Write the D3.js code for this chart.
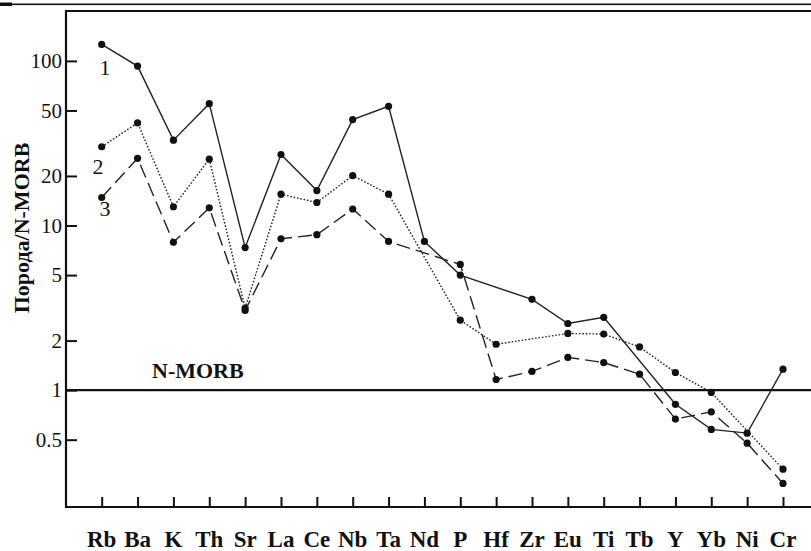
<!DOCTYPE html>
<html><head><meta charset="utf-8">
<script src="https://cdn.jsdelivr.net/npm/d3@7"></script>
<style>html,body{margin:0;padding:0;background:#fff;}svg{display:block;}</style>
</head><body>
<svg id="c" width="811" height="551"></svg>
<script>
const elements = ["Rb","Ba","K","Th","Sr","La","Ce","Nb","Ta","Nd","P","Hf","Zr","Eu","Ti","Tb","Y","Yb","Ni","Cr"];
const series1 = [126,93,33,55,7.35,27,16.3,44,53,8.0,5.0,null,3.56,2.54,2.77,null,0.82,0.577,0.548,1.34];
const series2 = [30.1,42,13.0,25.3,3.15,15.5,13.8,20.1,15.5,null,2.66,1.90,null,2.21,2.19,1.83,1.28,0.968,null,0.331];
const series3 = [14.8,25.6,7.9,12.8,3.05,8.3,8.8,12.6,8.0,null,5.8,1.16,1.30,1.58,1.47,1.25,0.667,0.738,0.476,0.271];
const yTicks = [100,50,20,10,5,2,1,0.5];
const seriesNames = ["1","2","3"];
const yTitle = "Порода/N-MORB";
const refLabel = "N-MORB";

const svg = d3.select("#c");
const serif = "'Liberation Serif','Times New Roman',serif";
const x = d3.scalePoint().domain(elements).range([101.7,783]);
const y = d3.scaleLog().domain([0.195,201]).range([507,11]);

// header rule
svg.append("rect").attr("x",0).attr("y",3.5).attr("width",811).attr("height",1.6).attr("fill","#111");
svg.append("rect").attr("x",0).attr("y",2.5).attr("width",12).attr("height",3.5).attr("fill","#111");

// frame
const frame = svg.append("g").attr("stroke","#111").attr("stroke-width",2.2).attr("fill","none");
frame.append("line").attr("x1",66).attr("x2",811).attr("y1",11).attr("y2",11);
frame.append("line").attr("x1",66).attr("x2",66).attr("y1",10).attr("y2",508);

// y axis (ticks inward)
const yAxis = d3.axisRight(y).tickValues(yTicks).tickSize(11).tickFormat(d3.format("~g"));
const gy = svg.append("g").attr("transform","translate(66,0)").call(yAxis);
gy.select(".domain").remove();
gy.selectAll(".tick line").attr("stroke","#111").attr("stroke-width",2);
gy.selectAll(".tick text").attr("x",-4).attr("text-anchor","end")
  .attr("font-family",serif).attr("font-size",21).attr("fill","#111");

// x axis (ticks inward)
const xAxis = d3.axisTop(x).tickSize(10).tickFormat("");
const gx = svg.append("g").attr("transform","translate(0,507)").call(xAxis);
gx.select(".domain").remove();
gx.selectAll(".tick line").attr("stroke","#111").attr("stroke-width",2);
svg.append("line").attr("x1",65).attr("x2",811).attr("y1",507).attr("y2",507).attr("stroke","#111").attr("stroke-width",2.2);
svg.append("g").selectAll("text").data(elements).join("text")
  .attr("x",d=>x(d)).attr("y",547).attr("text-anchor","middle")
  .attr("font-family",serif).attr("font-weight","bold").attr("font-size",23).attr("fill","#111")
  .text(d=>d);

// y title
svg.append("text").attr("transform","translate(29,228) rotate(-90)").attr("text-anchor","middle")
  .attr("font-family",serif).attr("font-weight","bold").attr("font-size",22).attr("fill","#111").text(yTitle);

// reference line
svg.append("line").attr("x1",66).attr("x2",811).attr("y1",y(1)).attr("y2",y(1)).attr("stroke","#111").attr("stroke-width",2.2);
svg.append("text").attr("x",152).attr("y",378).attr("font-family",serif).attr("font-weight","bold")
  .attr("font-size",22).attr("fill","#111").text(refLabel);

// series
const allSeries = [
  {vals:series1, dash:null, w:1.4},
  {vals:series2, dash:"1.6,1.8", w:1.4},
  {vals:series3, dash:"14,6", w:1.4}
];
const line = d3.line().x(d=>x(d.k)).y(d=>y(d.v));
allSeries.forEach(s=>{
  const pts = elements.map((k,i)=>({k, v:s.vals[i]})).filter(d=>d.v!=null);
  const p = svg.append("path").datum(pts).attr("d",line).attr("fill","none")
    .attr("stroke","#222").attr("stroke-width",s.w);
  if(s.dash) p.attr("stroke-dasharray",s.dash);
  svg.append("g").selectAll("circle").data(pts).join("circle")
    .attr("cx",d=>x(d.k)).attr("cy",d=>y(d.v)).attr("r",3.6).attr("fill","#111");
});

// series labels
const labelPos = [[105,75],[98,174],[105,216]];
svg.append("g").selectAll("text").data(seriesNames).join("text")
  .attr("x",(d,i)=>labelPos[i][0]).attr("y",(d,i)=>labelPos[i][1]).attr("text-anchor","middle")
  .attr("font-family",serif).attr("font-size",22).attr("fill","#111").text(d=>d);
</script>
</body></html>
